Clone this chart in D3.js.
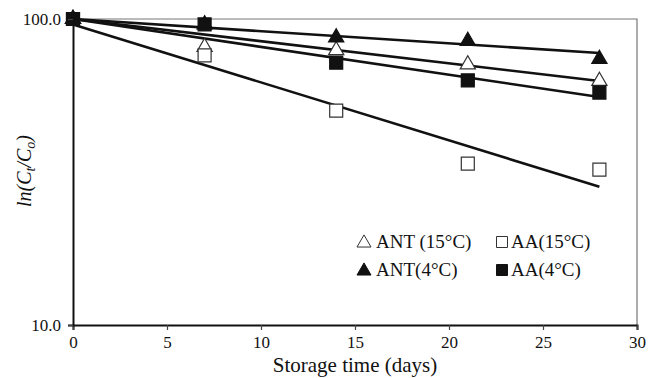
<!DOCTYPE html>
<html>
<head>
<meta charset="utf-8">
<script src="https://cdn.jsdelivr.net/npm/d3@7"></script>
<style>
  body { margin: 0; background: #fff; }
  svg text { font-family: "Liberation Serif", "Times New Roman", serif; fill: #111; }
</style>
</head>
<body>
<div id="chart"></div>
<script>
// storage days
const days = [0, 7, 14, 21, 28];

// measured values (% retained, log scale)
const ant15 = [100, 81, 79, 71, 62.7];
const aa15 = [100, 76, 50.2, 33.7, 32.2];
const ant4 = [100, 96, 87, 84.7, 74];
const aa4 = [100, 96, 72, 63, 57.5];

// first-order trend lines: value at day 0 and day 28
const fitDays = [0, 28];
const fitAnt4 = [100, 77.4];
const fitAnt15 = [100, 62.7];
const fitAa4 = [100, 55.6];
const fitAa15 = [96, 28.3];

const xTicks = [0, 5, 10, 15, 20, 25, 30];
const yTicks = [10, 100];

const legendItems = [
  { label: "ANT (15°C)", shape: "tri", filled: false },
  { label: "AA(15°C)", shape: "sq", filled: false },
  { label: "ANT(4°C)", shape: "tri", filled: true },
  { label: "AA(4°C)", shape: "sq", filled: true }
];

const W = 661, H = 378;
const margin = { top: 19, right: 24, bottom: 53, left: 73 };

const svg = d3.select("#chart").append("svg")
  .attr("width", W).attr("height", H);

const x = d3.scaleLinear().domain([0, 30]).range([margin.left, W - margin.right]);
const y = d3.scaleLog().domain([10, 100]).range([H - margin.bottom, margin.top]);

// frame top/right (grey)
svg.append("path")
  .attr("d", `M${x(0)},${y(100)}H${x(30)}V${y(10)}`)
  .attr("fill", "none").attr("stroke", "#777").attr("stroke-width", 1.2);

// trend lines
const line = d3.line().x(d => x(d[0])).y(d => y(d[1]));
[fitAnt4, fitAnt15, fitAa4, fitAa15].forEach(f => {
  svg.append("path")
    .attr("d", line(fitDays.map((t, i) => [t, f[i]])))
    .attr("fill", "none").attr("stroke", "#111").attr("stroke-width", 2.6);
});

const triSym = d3.symbol().type(d3.symbolTriangle).size(100);
const sqSym = d3.symbol().type(d3.symbolSquare).size(169);

function drawSeries(vals, sym, filled) {
  svg.append("g").selectAll("path")
    .data(days.map((t, i) => [t, vals[i]]))
    .join("path")
    .attr("d", sym)
    .attr("transform", d => `translate(${x(d[0])},${y(d[1])})`)
    .attr("fill", filled ? "#111" : "#fff")
    .attr("stroke", filled ? "#111" : "#333")
    .attr("stroke-width", 1.2);
}
drawSeries(ant15, triSym, false);
drawSeries(aa15, sqSym, false);
drawSeries(ant4, triSym, true);
drawSeries(aa4, sqSym, true);

// axes
const xAxis = svg.append("g")
  .attr("transform", `translate(0,${y(10)})`)
  .call(d3.axisBottom(x).tickValues(xTicks).tickSize(5).tickPadding(6).tickFormat(d3.format("d")));
const yAxis = svg.append("g")
  .attr("transform", `translate(${x(0)},0)`)
  .call(d3.axisLeft(y).tickValues(yTicks).tickSize(5).tickPadding(7).tickFormat(d3.format(".1f")));
[xAxis, yAxis].forEach(a => {
  a.select(".domain").attr("stroke", "#111").attr("stroke-width", 2);
  a.selectAll(".tick line").attr("stroke", "#444").attr("stroke-width", 1.2);
  a.selectAll(".tick text").attr("font-size", 17).attr("fill", "#111");
});

// axis titles
svg.append("text")
  .attr("x", 355).attr("y", 372)
  .attr("text-anchor", "middle").attr("font-size", 21)
  .text("Storage time (days)");

const yl = svg.append("text")
  .attr("transform", "translate(31,171) rotate(-90)")
  .attr("text-anchor", "middle").attr("font-size", 20)
  .attr("font-style", "italic");
yl.append("tspan").text("ln(C");
yl.append("tspan").attr("font-size", 14).attr("dy", 4).text("t");
yl.append("tspan").attr("dy", -4).text("/C");
yl.append("tspan").attr("font-size", 14).attr("dy", 4).text("o");
yl.append("tspan").attr("dy", -4).text(")");

// legend
const legTri = d3.symbol().type(d3.symbolTriangle).size(85);
const legSq = d3.symbol().type(d3.symbolSquare).size(121);
const leg = svg.append("g").selectAll("g")
  .data(legendItems)
  .join("g")
  .attr("transform", (d, i) => `translate(${i % 2 === 0 ? 364 : 502},${i < 2 ? 242 : 270})`);
leg.append("path")
  .attr("d", d => d.shape === "tri" ? legTri() : legSq())
  .attr("transform", d => d.shape === "tri" ? "translate(0,1)" : null)
  .attr("fill", d => d.filled ? "#111" : "#fff")
  .attr("stroke", d => d.filled ? "#111" : "#333")
  .attr("stroke-width", 1);
leg.append("text")
  .attr("x", d => d.shape === "tri" ? 12 : 9)
  .attr("y", 6)
  .attr("font-size", 19)
  .text(d => d.label);
</script>
</body>
</html>
